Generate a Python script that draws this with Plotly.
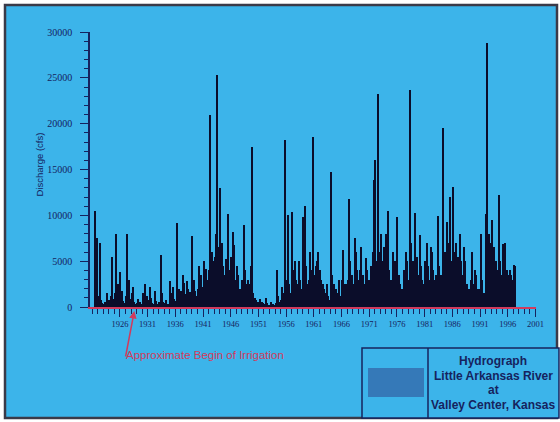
import plotly.graph_objects as go

# Quarterly peak discharge (cfs), Little Arkansas River at Valley Center, Kansas.
# One entry per year in each quarter list (None = no record).
record_years = list(range(1921, 1998))
q1 = [None, 1200, 300, 800, 1500, 3800, 1200, 1500, 400, 1500, 800, 300, 500, 400, 2800, 700,
      1800, 2800, 7800, 2000, 5000, 4000, 5500, 13000, 5200, 5500, 4500, 3000, 3000, 1500, 600,
      300, 200, 400, 800, 3000, 10400, 2500, 9800, 3000, 3500, 4000, 1500, 14700, 2000, 3000,
      3000, 2500, 3000, 2500, 3000, 16000, 8000, 8000, 3000, 9800, 2000, 3000, 4000, 7900, 5000,
      6500, 3500, 3500, 9300, 13100, 5500, 6500, 2000, 4000, 8000, 10200, 9500, 4000, 6900, 3500, 4600]
q2 = [None, 7000, 600, 1200, 8000, 1800, 8000, 2200, 900, 600, 2200, 1800, 5700, 800, 1500, 9200,
      3500, 2000, 3000, 4500, 3800, 21000, 8000, 7000, 3500, 8200, 3500, 8900, 2500, 1000, 900,
      1000, 500, 4000, 2200, 10000, 4000, 5000, 11000, 6000, 4500, 3000, 2500, 3500, 1500, 6200,
      11800, 7500, 4000, 5300, 4500, 5000, 5000, 10500, 6000, 3500, 4000, 23700, 10300, 4500, 7000,
      6000, 9900, 19500, 7000, 6000, 8000, 5000, 3000, 3500, 3000, 28800, 6000, 12200, 4500, 4000, 4500]
q3 = [10500, 800, 1500, 5500, 2500, 700, 3000, 600, 500, 2500, 1000, 700, 1500, 300, 2200, 2000,
      2600, 1600, 1800, 3500, 4200, 6000, 25300, 4500, 10200, 6800, 2000, 4000, 4500, 800, 500,
      400, 300, 1200, 1500, 2500, 5000, 3000, 4500, 4000, 5000, 2500, 1200, 2500, 3000, 2500,
      5000, 6000, 6500, 4000, 6000, 23200, 6500, 4000, 5000, 2500, 6000, 7000, 5500, 3000, 4500,
      4000, 4500, 6000, 12000, 7000, 5000, 2500, 6000, 2000, 1500, 8000, 6500, 5000, 7000, 3500, None]
q4 = [7500, 400, 500, 900, 1000, 400, 900, 300, 300, 1200, 400, 300, 600, 200, 900, 1200,
      1400, 1000, 1200, 2200, 3000, 5000, 6500, 3500, 4000, 3000, 1500, 2500, 17500, 500, 400,
      200, 200, 600, 18200, 1500, 3000, 2000, 2500, 18500, 6000, 2000, 800, 1500, 1200, 2500,
      3500, 4000, 3500, 3000, 13900, 6000, 4500, 3000, 3000, 2000, 5000, 5000, 3500, 2500, 3000,
      3000, 3500, 4000, 5000, 4500, 3500, 2000, 2500, 2000, 1500, 7000, 5000, 3500, 4000, 3000, None]

x_tick_years = list(range(1926, 2002, 5))
y_tick_values = [0, 5000, 10000, 15000, 20000, 25000, 30000]

# Flatten the quarterly table into a date / value series
dates, flows = [], []
for i, yr in enumerate(record_years):
    for k, col in enumerate((q1, q2, q3, q4)):
        v = col[i]
        if v is not None:
            dates.append(yr + 0.125 + 0.25 * k)
            flows.append(v)

BG = "#3cb4ea"
NAVY = "#16235e"
INK = "#0b0d2a"
RED = "#d23a5c"

fig = go.Figure()
fig.add_trace(go.Bar(x=dates, y=flows, width=0.25, marker=dict(color=INK, line=dict(width=0)),
                     hoverinfo="x+y"))

L, R, T, B = 90, 24, 32, 115
W, H = 560, 422
pw, ph = W - L - R, H - T - B


def px(x):
    return (x - L) / pw


def py(y):
    return (H - B - y) / ph


shapes = [
    # panel background and frame
    dict(type="rect", xref="paper", yref="paper", x0=px(5), x1=px(557), y0=py(418), y1=py(5),
         fillcolor=BG, line=dict(color="#3a3a48", width=2.5), layer="below"),
    # title block
    dict(type="rect", xref="paper", yref="paper", x0=px(362), x1=px(559), y0=py(418), y1=py(348),
         fillcolor=BG, line=dict(color=NAVY, width=1.5), layer="below"),
    dict(type="line", xref="paper", yref="paper", x0=px(428), x1=px(428), y0=py(418), y1=py(348),
         line=dict(color=NAVY, width=1.5)),
    # logo panel
    dict(type="rect", xref="paper", yref="paper", x0=px(368), x1=px(424), y0=py(397), y1=py(368),
         fillcolor="#3579b8", line=dict(width=0), layer="below"),
]

annotations = [
    dict(text="Discharge (cfs)", x=px(31), y=py(165), xref="paper", yref="paper", textangle=-90,
         showarrow=False, font=dict(family="Liberation Sans", size=9.5, color=NAVY)),
    # pointer to start of irrigation
    dict(text="", x=1928.6, y=py(311), xref="x", yref="paper", ax=-9, ay=47, showarrow=True,
         arrowhead=2, arrowsize=1, arrowwidth=1.5, arrowcolor=RED),
    dict(text="Approximate Begin of Irrigation", x=px(124), y=py(363), xref="paper", yref="paper",
         xanchor="left", showarrow=False, font=dict(family="Liberation Sans", size=11.5, color=RED)),
]
for line_text, ypos in (("Hydrograph", 361), ("Little Arkansas River", 376), ("at", 390),
                        ("Valley Center, Kansas", 405)):
    annotations.append(dict(text="<b>" + line_text + "</b>", x=px(493), y=py(ypos), xref="paper",
                            yref="paper", xanchor="center", yanchor="middle", showarrow=False,
                            font=dict(family="Liberation Sans", size=12, color=NAVY)))

fig.update_layout(
    width=W, height=H,
    margin=dict(l=L, r=R, t=T, b=B, pad=0),
    paper_bgcolor="white",
    plot_bgcolor="rgba(0,0,0,0)",
    showlegend=False,
    bargap=0,
    shapes=shapes,
    annotations=annotations,
    xaxis=dict(range=[1920.6, 2001.1], tickmode="array", tickvals=x_tick_years,
               ticktext=[str(v) for v in x_tick_years], ticks="outside", ticklen=8,
               tickcolor=NAVY, tickwidth=1, showgrid=False, zeroline=False,
               showline=True, linecolor=RED, linewidth=1.5,
               tickfont=dict(family="Liberation Serif", size=8.5, color=NAVY),
               minor=dict(dtick=1, tick0=1921, ticks="outside", ticklen=5, tickcolor=NAVY)),
    yaxis=dict(range=[0, 30000], tickmode="array", tickvals=y_tick_values,
               ticktext=[str(v) for v in y_tick_values], ticks="outside", ticklen=8,
               ticklabelstandoff=6,
               tickcolor=NAVY, tickwidth=1, showgrid=False, zeroline=False,
               showline=True, linecolor=NAVY, linewidth=1.5,
               tickfont=dict(family="Liberation Serif", size=10, color=NAVY),
               minor=dict(dtick=1000, ticks="outside", ticklen=4, tickcolor=NAVY)),
)

fig.write_html("out.html")
